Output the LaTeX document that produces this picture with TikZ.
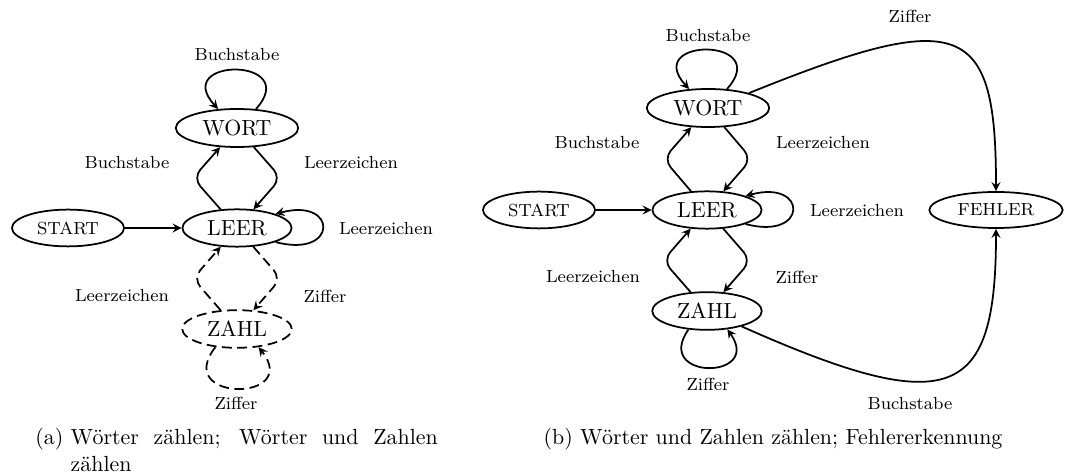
\documentclass[tikz,border=0pt]{standalone}
\usepackage{tikz}
\usetikzlibrary{calc,shapes.geometric}

\tikzset{
	zustand/.style={draw, thick, ellipse, inner xsep=4pt, inner ysep=2.5pt},
	randzustand/.style={zustand, font=\footnotesize, inner ysep=3pt},
	marke/.style={font=\footnotesize},
	kante/.style={->, thick, rounded corners=5pt},
	gestrichelt/.style={dash pattern=on 4.5pt off 2.5pt}
}

\begin{document}
\begin{tikzpicture}[x=0.4566pt,y=0.4566pt,>=stealth]
	\useasboundingbox (0,0) rectangle (1072,474);
	
	% (a)
	\node[randzustand] (startA) at (68,246) {START};
	\node[zustand] (leerA) at (237,246) {LEER};
	\node[zustand] (wortA) at (237,346) {WORT};
	\node[zustand,gestrichelt] (zahlA) at (237,145) {ZAHL};
	
	\draw[kante] (startA) -- (leerA);
	\draw[kante] (leerA) -- ($(leerA)!0.5!(wortA)+(-44,0)$) -- (wortA);
	\draw[kante] (wortA) -- ($(leerA)!0.5!(wortA)+(44,0)$) -- (leerA);
	\draw[kante,gestrichelt] (zahlA) -- ($(leerA)!0.5!(zahlA)+(-44,0)$) -- (leerA);
	\draw[kante,gestrichelt] (leerA) -- ($(leerA)!0.5!(zahlA)+(44,0)$) -- (zahlA);
	\draw[kante] (wortA.45) .. controls +(48:70) and +(132:70) .. (wortA.135);
	\draw[kante] (leerA.-20) .. controls +(-15:65) and +(15:65) .. (leerA.20);
	\draw[kante,gestrichelt] (zahlA.-140) .. controls +(-128:70) and +(-52:70) .. (zahlA.-40);
	
	\node[marke] (bsA1) at (237,419) {Buchstabe};
	\node[marke] (bsA2) at (127,311) {Buchstabe};
	\node[marke] (lzA1) at (351,311) {Leerzeichen};
	\node[marke] (lzA2) at (386,245) {Leerzeichen};
	\node[marke] (lzA3) at (122,178) {Leerzeichen};
	\node[marke] (zfA1) at (325,178) {Ziffer};
	\node[marke] (zfA2) at (236,71) {Ziffer};
	
	\node[anchor=base west,inner sep=0pt] (capA) at (35,29)
		{(a)~\parbox[t]{167.6pt}{Wörter zählen; Wörter und Zahlen zählen}};
	
	% (b)
	\node[randzustand] (startB) at (539,264) {START};
	\node[zustand] (leerB) at (707,264) {LEER};
	\node[zustand] (wortB) at (708,366) {WORT};
	\node[zustand] (zahlB) at (707,163) {ZAHL};
	\node[randzustand] (fehlerB) at (996,264) {FEHLER};
	
	\draw[kante] (startB) -- (leerB);
	\draw[kante] (leerB) -- ($(leerB)!0.5!(wortB)+(-44,0)$) -- (wortB);
	\draw[kante] (wortB) -- ($(leerB)!0.5!(wortB)+(44,0)$) -- (leerB);
	\draw[kante] (zahlB) -- ($(leerB)!0.5!(zahlB)+(-44,0)$) -- (leerB);
	\draw[kante] (leerB) -- ($(leerB)!0.5!(zahlB)+(44,0)$) -- (zahlB);
	\draw[kante] (wortB.45) .. controls +(48:70) and +(132:70) .. (wortB.135);
	\draw[kante] (leerB.-20) .. controls +(-15:65) and +(15:65) .. (leerB.20);
	\draw[kante] (zahlB.-135) .. controls +(-125:62) and +(-55:62) .. (zahlB.-42);
	\draw[kante] (wortB.20) .. controls +(22:230) and +(90:170) .. (fehlerB.north);
	\draw[kante] (zahlB.-24) .. controls +(-24:230) and +(-90:170) .. (fehlerB.south);
	
	\node[marke] (bsB1) at (708,438) {Buchstabe};
	\node[marke] (bsB2) at (597,331) {Buchstabe};
	\node[marke] (lzB1) at (823,331) {Leerzeichen};
	\node[marke] (lzB2) at (857,263) {Leerzeichen};
	\node[marke] (lzB3) at (593,197) {Leerzeichen};
	\node[marke] (zfB1) at (797,197) {Ziffer};
	\node[marke] (zfB2) at (708,90) {Ziffer};
	\node[marke] (zfB3) at (910,458) {Ziffer};
	\node[marke] (bsB3) at (910,70) {Buchstabe};
	
	\node[anchor=base,inner sep=0pt] (capB) at (773,29)
		{(b) Wörter und Zahlen zählen; Fehlererkennung};

\end{tikzpicture}
\end{document}
